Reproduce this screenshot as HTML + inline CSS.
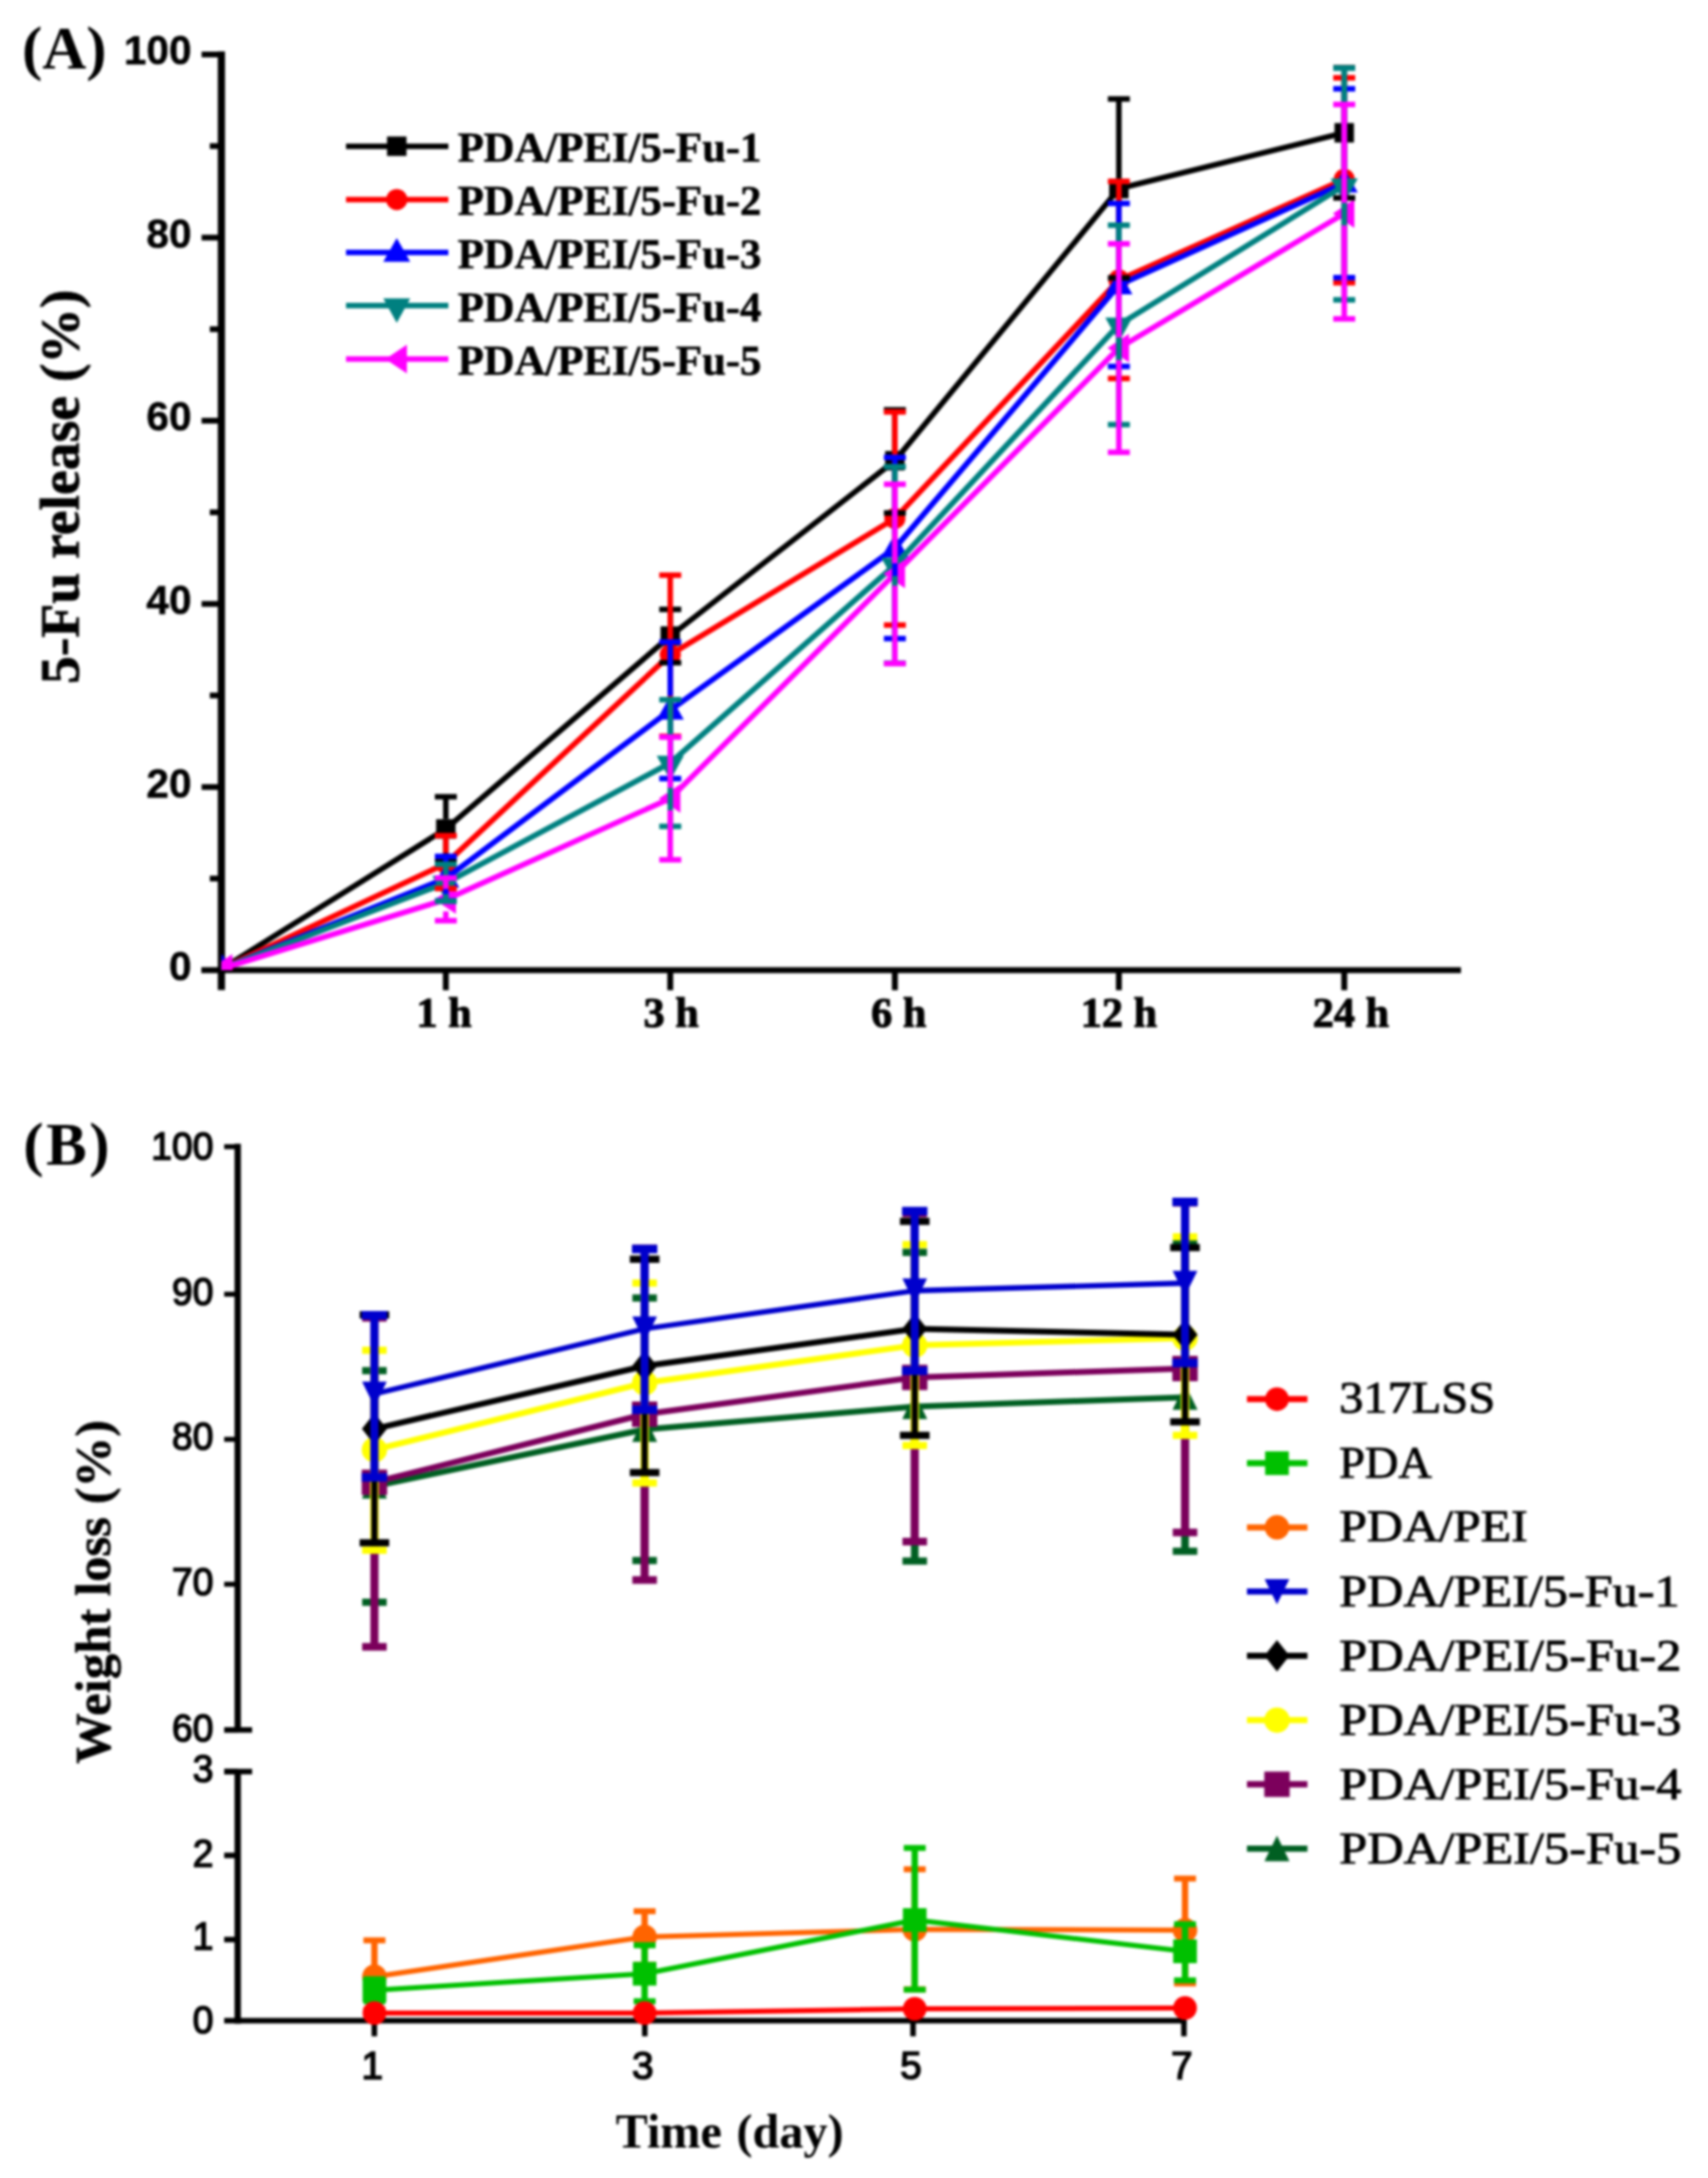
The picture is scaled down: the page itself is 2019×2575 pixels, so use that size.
<!DOCTYPE html>
<html lang="en"><head><meta charset="utf-8"><title>5-Fu release and weight loss</title>
<style>html,body{margin:0;padding:0;background:#fff;}body{width:2019px;height:2575px;overflow:hidden;}</style>
</head><body>
<svg width="2019" height="2575" viewBox="0 0 2019 2575" style="display:block;filter:blur(1.4px)">
<g id="panelA">
<line x1="261.7" y1="60.7" x2="261.7" y2="1170.5" stroke="#000" stroke-width="8.5"/>
<line x1="238" y1="1147.0" x2="1727" y2="1147.0" stroke="#000" stroke-width="7.2"/>
<text x="226.5" y="1159.0" font-family="'Liberation Sans',Arial,sans-serif" font-weight="700" font-size="48" text-anchor="end" fill="#000" stroke="#000" stroke-width="0.5">0</text>
<line x1="248" y1="1038.7" x2="261.7" y2="1038.7" stroke="#000" stroke-width="6.8"/>
<line x1="238.3" y1="930.5" x2="261.7" y2="930.5" stroke="#000" stroke-width="6.8"/>
<text x="226.5" y="942.5" font-family="'Liberation Sans',Arial,sans-serif" font-weight="700" font-size="48" text-anchor="end" fill="#000" stroke="#000" stroke-width="0.5">20</text>
<line x1="248" y1="822.2" x2="261.7" y2="822.2" stroke="#000" stroke-width="6.8"/>
<line x1="238.3" y1="714.0" x2="261.7" y2="714.0" stroke="#000" stroke-width="6.8"/>
<text x="226.5" y="726.0" font-family="'Liberation Sans',Arial,sans-serif" font-weight="700" font-size="48" text-anchor="end" fill="#000" stroke="#000" stroke-width="0.5">40</text>
<line x1="248" y1="605.7" x2="261.7" y2="605.7" stroke="#000" stroke-width="6.8"/>
<line x1="238.3" y1="497.4" x2="261.7" y2="497.4" stroke="#000" stroke-width="6.8"/>
<text x="226.5" y="509.4" font-family="'Liberation Sans',Arial,sans-serif" font-weight="700" font-size="48" text-anchor="end" fill="#000" stroke="#000" stroke-width="0.5">60</text>
<line x1="248" y1="389.2" x2="261.7" y2="389.2" stroke="#000" stroke-width="6.8"/>
<line x1="238.3" y1="280.9" x2="261.7" y2="280.9" stroke="#000" stroke-width="6.8"/>
<text x="226.5" y="292.9" font-family="'Liberation Sans',Arial,sans-serif" font-weight="700" font-size="48" text-anchor="end" fill="#000" stroke="#000" stroke-width="0.5">80</text>
<line x1="248" y1="172.7" x2="261.7" y2="172.7" stroke="#000" stroke-width="6.8"/>
<line x1="238.3" y1="64.4" x2="261.7" y2="64.4" stroke="#000" stroke-width="6.8"/>
<text x="226.5" y="76.4" font-family="'Liberation Sans',Arial,sans-serif" font-weight="700" font-size="48" text-anchor="end" fill="#000" stroke="#000" stroke-width="0.5">100</text>
<line x1="527.0" y1="1147.0" x2="527.0" y2="1170.7" stroke="#000" stroke-width="7"/>
<text x="525.0" y="1214" font-family="'Liberation Serif','Times New Roman',serif" font-weight="700" font-size="50" text-anchor="middle" fill="#000" stroke="#000" stroke-width="1.2">1 h</text>
<line x1="792.3" y1="1147.0" x2="792.3" y2="1170.7" stroke="#000" stroke-width="7"/>
<text x="793.3" y="1214" font-family="'Liberation Serif','Times New Roman',serif" font-weight="700" font-size="50" text-anchor="middle" fill="#000" stroke="#000" stroke-width="1.2">3 h</text>
<line x1="1057.8" y1="1147.0" x2="1057.8" y2="1170.7" stroke="#000" stroke-width="7"/>
<text x="1062.3" y="1214" font-family="'Liberation Serif','Times New Roman',serif" font-weight="700" font-size="50" text-anchor="middle" fill="#000" stroke="#000" stroke-width="1.2">6 h</text>
<line x1="1322.6" y1="1147.0" x2="1322.6" y2="1170.7" stroke="#000" stroke-width="7"/>
<text x="1322.6" y="1214" font-family="'Liberation Serif','Times New Roman',serif" font-weight="700" font-size="50" text-anchor="middle" fill="#000" stroke="#000" stroke-width="1.2">12 h</text>
<line x1="1589.0" y1="1147.0" x2="1589.0" y2="1170.7" stroke="#000" stroke-width="7"/>
<text x="1597.0" y="1214" font-family="'Liberation Serif','Times New Roman',serif" font-weight="700" font-size="50" text-anchor="middle" fill="#000" stroke="#000" stroke-width="1.2">24 h</text>
<text x="26" y="80.5" font-family="'Liberation Serif','Times New Roman',serif" font-weight="700" font-size="72" fill="#000">(A)</text>
<text transform="translate(92.5,575.5) rotate(-90)" font-family="'Liberation Serif','Times New Roman',serif" font-weight="700" font-size="65.8" text-anchor="middle" fill="#000" stroke="#000" stroke-width="0.8">5-Fu release (%)</text>
<clipPath id="clipA"><rect x="261.7" y="0" width="1800" height="1147"/></clipPath>
<g clip-path="url(#clipA)">
<polyline points="262.7,1145.0 527.0,980.0 792.3,752.0 1057.8,544.7 1322.6,223.0 1589.0,157.0" fill="none" stroke="#000000" stroke-width="6.6" stroke-linejoin="round"/>
<rect x="251.2" y="1133.5" width="23.0" height="23.0" fill="#000000"/>
<rect x="515.5" y="968.5" width="23.0" height="23.0" fill="#000000"/>
<rect x="780.8" y="740.5" width="23.0" height="23.0" fill="#000000"/>
<rect x="1046.3" y="533.2" width="23.0" height="23.0" fill="#000000"/>
<rect x="1311.1" y="211.5" width="23.0" height="23.0" fill="#000000"/>
<rect x="1577.5" y="145.5" width="23.0" height="23.0" fill="#000000"/>
<polyline points="262.7,1145.0 527.0,1021.0 792.3,774.0 1057.8,613.0 1322.6,331.0 1589.0,212.0" fill="none" stroke="#ff0000" stroke-width="6.6" stroke-linejoin="round"/>
<circle cx="262.7" cy="1145.0" r="12.5" fill="#ff0000"/>
<circle cx="527.0" cy="1021.0" r="12.5" fill="#ff0000"/>
<circle cx="792.3" cy="774.0" r="12.5" fill="#ff0000"/>
<circle cx="1057.8" cy="613.0" r="12.5" fill="#ff0000"/>
<circle cx="1322.6" cy="331.0" r="12.5" fill="#ff0000"/>
<circle cx="1589.0" cy="212.0" r="12.5" fill="#ff0000"/>
<polyline points="262.7,1145.0 527.0,1038.5 792.3,839.7 1057.8,648.0 1322.6,337.0 1589.0,216.5" fill="none" stroke="#0000ff" stroke-width="6.6" stroke-linejoin="round"/>
<polygon points="262.7,1128.0 278.7,1156.0 246.7,1156.0" fill="#0000ff"/>
<polygon points="527.0,1021.5 543.0,1049.5 511.0,1049.5" fill="#0000ff"/>
<polygon points="792.3,822.7 808.3,850.7 776.3,850.7" fill="#0000ff"/>
<polygon points="1057.8,631.0 1073.8,659.0 1041.8,659.0" fill="#0000ff"/>
<polygon points="1322.6,320.0 1338.6,348.0 1306.6,348.0" fill="#0000ff"/>
<polygon points="1589.0,199.5 1605.0,227.5 1573.0,227.5" fill="#0000ff"/>
<polyline points="262.7,1145.0 527.0,1044.0 792.3,902.0 1057.8,668.0 1322.6,384.0 1589.0,219.5" fill="none" stroke="#008080" stroke-width="6.6" stroke-linejoin="round"/>
<polygon points="262.7,1165.5 278.7,1136.5 246.7,1136.5" fill="#008080"/>
<polygon points="527.0,1064.5 543.0,1035.5 511.0,1035.5" fill="#008080"/>
<polygon points="792.3,922.5 808.3,893.5 776.3,893.5" fill="#008080"/>
<polygon points="1057.8,688.5 1073.8,659.5 1041.8,659.5" fill="#008080"/>
<polygon points="1322.6,404.5 1338.6,375.5 1306.6,375.5" fill="#008080"/>
<polygon points="1589.0,240.0 1605.0,211.0 1573.0,211.0" fill="#008080"/>
<polyline points="262.7,1145.0 527.0,1063.5 792.3,944.0 1057.8,678.5 1322.6,411.5 1589.0,252.5" fill="none" stroke="#ff00ff" stroke-width="6.6" stroke-linejoin="round"/>
<polygon points="249.2,1145.0 274.7,1128.0 274.7,1162.0" fill="#ff00ff"/>
<polygon points="513.5,1063.5 539.0,1046.5 539.0,1080.5" fill="#ff00ff"/>
<polygon points="778.8,944.0 804.3,927.0 804.3,961.0" fill="#ff00ff"/>
<polygon points="1044.3,678.5 1069.8,661.5 1069.8,695.5" fill="#ff00ff"/>
<polygon points="1309.1,411.5 1334.6,394.5 1334.6,428.5" fill="#ff00ff"/>
<polygon points="1575.5,252.5 1601.0,235.5 1601.0,269.5" fill="#ff00ff"/>
<line x1="527.0" y1="942.0" x2="527.0" y2="968.5" stroke="#000000" stroke-width="6.5"/><line x1="527.0" y1="991.5" x2="527.0" y2="1016.0" stroke="#000000" stroke-width="6.5"/><line x1="514.0" y1="942.0" x2="540.0" y2="942.0" stroke="#000000" stroke-width="6.5"/><line x1="514.0" y1="1016.0" x2="540.0" y2="1016.0" stroke="#000000" stroke-width="6.5"/>
<line x1="792.3" y1="720.6" x2="792.3" y2="740.5" stroke="#000000" stroke-width="6.5"/><line x1="792.3" y1="763.5" x2="792.3" y2="783.5" stroke="#000000" stroke-width="6.5"/><line x1="779.3" y1="720.6" x2="805.3" y2="720.6" stroke="#000000" stroke-width="6.5"/><line x1="779.3" y1="783.5" x2="805.3" y2="783.5" stroke="#000000" stroke-width="6.5"/>
<line x1="1057.8" y1="484.5" x2="1057.8" y2="533.2" stroke="#000000" stroke-width="6.5"/><line x1="1057.8" y1="556.2" x2="1057.8" y2="606.6" stroke="#000000" stroke-width="6.5"/><line x1="1044.8" y1="484.5" x2="1070.8" y2="484.5" stroke="#000000" stroke-width="6.5"/><line x1="1044.8" y1="606.6" x2="1070.8" y2="606.6" stroke="#000000" stroke-width="6.5"/>
<line x1="1322.6" y1="117.0" x2="1322.6" y2="211.5" stroke="#000000" stroke-width="6.5"/><line x1="1322.6" y1="234.5" x2="1322.6" y2="328.6" stroke="#000000" stroke-width="6.5"/><line x1="1309.6" y1="117.0" x2="1335.6" y2="117.0" stroke="#000000" stroke-width="6.5"/><line x1="1309.6" y1="328.6" x2="1335.6" y2="328.6" stroke="#000000" stroke-width="6.5"/>
<line x1="1589.0" y1="80.0" x2="1589.0" y2="145.5" stroke="#000000" stroke-width="6.5"/><line x1="1589.0" y1="168.5" x2="1589.0" y2="234.0" stroke="#000000" stroke-width="6.5"/><line x1="1576.0" y1="80.0" x2="1602.0" y2="80.0" stroke="#000000" stroke-width="6.5"/><line x1="1576.0" y1="234.0" x2="1602.0" y2="234.0" stroke="#000000" stroke-width="6.5"/>
<line x1="527.0" y1="988.0" x2="527.0" y2="1008.5" stroke="#ff0000" stroke-width="6.5"/><line x1="527.0" y1="1033.5" x2="527.0" y2="1050.5" stroke="#ff0000" stroke-width="6.5"/><line x1="514.0" y1="988.0" x2="540.0" y2="988.0" stroke="#ff0000" stroke-width="6.5"/><line x1="514.0" y1="1050.5" x2="540.0" y2="1050.5" stroke="#ff0000" stroke-width="6.5"/>
<line x1="792.3" y1="680.0" x2="792.3" y2="761.5" stroke="#ff0000" stroke-width="6.5"/><line x1="792.3" y1="786.5" x2="792.3" y2="870.6" stroke="#ff0000" stroke-width="6.5"/><line x1="779.3" y1="680.0" x2="805.3" y2="680.0" stroke="#ff0000" stroke-width="6.5"/><line x1="779.3" y1="870.6" x2="805.3" y2="870.6" stroke="#ff0000" stroke-width="6.5"/>
<line x1="1057.8" y1="487.0" x2="1057.8" y2="600.5" stroke="#ff0000" stroke-width="6.5"/><line x1="1057.8" y1="625.5" x2="1057.8" y2="739.0" stroke="#ff0000" stroke-width="6.5"/><line x1="1044.8" y1="487.0" x2="1070.8" y2="487.0" stroke="#ff0000" stroke-width="6.5"/><line x1="1044.8" y1="739.0" x2="1070.8" y2="739.0" stroke="#ff0000" stroke-width="6.5"/>
<line x1="1322.6" y1="214.4" x2="1322.6" y2="318.5" stroke="#ff0000" stroke-width="6.5"/><line x1="1322.6" y1="343.5" x2="1322.6" y2="447.6" stroke="#ff0000" stroke-width="6.5"/><line x1="1309.6" y1="214.4" x2="1335.6" y2="214.4" stroke="#ff0000" stroke-width="6.5"/><line x1="1309.6" y1="447.6" x2="1335.6" y2="447.6" stroke="#ff0000" stroke-width="6.5"/>
<line x1="1589.0" y1="91.9" x2="1589.0" y2="199.5" stroke="#ff0000" stroke-width="6.5"/><line x1="1589.0" y1="224.5" x2="1589.0" y2="334.3" stroke="#ff0000" stroke-width="6.5"/><line x1="1576.0" y1="91.9" x2="1602.0" y2="91.9" stroke="#ff0000" stroke-width="6.5"/><line x1="1576.0" y1="334.3" x2="1602.0" y2="334.3" stroke="#ff0000" stroke-width="6.5"/>
<line x1="527.0" y1="1012.4" x2="527.0" y2="1021.5" stroke="#0000ff" stroke-width="6.5"/><line x1="527.0" y1="1049.5" x2="527.0" y2="1065.0" stroke="#0000ff" stroke-width="6.5"/><line x1="514.0" y1="1012.4" x2="540.0" y2="1012.4" stroke="#0000ff" stroke-width="6.5"/><line x1="514.0" y1="1065.0" x2="540.0" y2="1065.0" stroke="#0000ff" stroke-width="6.5"/>
<line x1="792.3" y1="759.0" x2="792.3" y2="822.7" stroke="#0000ff" stroke-width="6.5"/><line x1="792.3" y1="850.7" x2="792.3" y2="920.5" stroke="#0000ff" stroke-width="6.5"/><line x1="779.3" y1="759.0" x2="805.3" y2="759.0" stroke="#0000ff" stroke-width="6.5"/><line x1="779.3" y1="920.5" x2="805.3" y2="920.5" stroke="#0000ff" stroke-width="6.5"/>
<line x1="1057.8" y1="540.8" x2="1057.8" y2="631.0" stroke="#0000ff" stroke-width="6.5"/><line x1="1057.8" y1="659.0" x2="1057.8" y2="755.0" stroke="#0000ff" stroke-width="6.5"/><line x1="1044.8" y1="540.8" x2="1070.8" y2="540.8" stroke="#0000ff" stroke-width="6.5"/><line x1="1044.8" y1="755.0" x2="1070.8" y2="755.0" stroke="#0000ff" stroke-width="6.5"/>
<line x1="1322.6" y1="240.4" x2="1322.6" y2="320.0" stroke="#0000ff" stroke-width="6.5"/><line x1="1322.6" y1="348.0" x2="1322.6" y2="433.3" stroke="#0000ff" stroke-width="6.5"/><line x1="1309.6" y1="240.4" x2="1335.6" y2="240.4" stroke="#0000ff" stroke-width="6.5"/><line x1="1309.6" y1="433.3" x2="1335.6" y2="433.3" stroke="#0000ff" stroke-width="6.5"/>
<line x1="1589.0" y1="105.0" x2="1589.0" y2="199.5" stroke="#0000ff" stroke-width="6.5"/><line x1="1589.0" y1="227.5" x2="1589.0" y2="328.2" stroke="#0000ff" stroke-width="6.5"/><line x1="1576.0" y1="105.0" x2="1602.0" y2="105.0" stroke="#0000ff" stroke-width="6.5"/><line x1="1576.0" y1="328.2" x2="1602.0" y2="328.2" stroke="#0000ff" stroke-width="6.5"/>
<line x1="527.0" y1="1021.8" x2="527.0" y2="1035.5" stroke="#008080" stroke-width="6.5"/><line x1="527.0" y1="1057.0" x2="527.0" y2="1065.5" stroke="#008080" stroke-width="6.5"/><line x1="514.0" y1="1021.8" x2="540.0" y2="1021.8" stroke="#008080" stroke-width="6.5"/><line x1="514.0" y1="1065.5" x2="540.0" y2="1065.5" stroke="#008080" stroke-width="6.5"/>
<line x1="792.3" y1="827.3" x2="792.3" y2="893.5" stroke="#008080" stroke-width="6.5"/><line x1="792.3" y1="915.0" x2="792.3" y2="977.0" stroke="#008080" stroke-width="6.5"/><line x1="779.3" y1="827.3" x2="805.3" y2="827.3" stroke="#008080" stroke-width="6.5"/><line x1="779.3" y1="977.0" x2="805.3" y2="977.0" stroke="#008080" stroke-width="6.5"/>
<line x1="1057.8" y1="551.7" x2="1057.8" y2="659.5" stroke="#008080" stroke-width="6.5"/><line x1="1057.8" y1="681.0" x2="1057.8" y2="784.0" stroke="#008080" stroke-width="6.5"/><line x1="1044.8" y1="551.7" x2="1070.8" y2="551.7" stroke="#008080" stroke-width="6.5"/><line x1="1044.8" y1="784.0" x2="1070.8" y2="784.0" stroke="#008080" stroke-width="6.5"/>
<line x1="1322.6" y1="266.2" x2="1322.6" y2="375.5" stroke="#008080" stroke-width="6.5"/><line x1="1322.6" y1="397.0" x2="1322.6" y2="502.0" stroke="#008080" stroke-width="6.5"/><line x1="1309.6" y1="266.2" x2="1335.6" y2="266.2" stroke="#008080" stroke-width="6.5"/><line x1="1309.6" y1="502.0" x2="1335.6" y2="502.0" stroke="#008080" stroke-width="6.5"/>
<line x1="1589.0" y1="80.5" x2="1589.0" y2="211.0" stroke="#008080" stroke-width="6.5"/><line x1="1589.0" y1="232.5" x2="1589.0" y2="354.4" stroke="#008080" stroke-width="6.5"/><line x1="1576.0" y1="80.5" x2="1602.0" y2="80.5" stroke="#008080" stroke-width="6.5"/><line x1="1576.0" y1="354.4" x2="1602.0" y2="354.4" stroke="#008080" stroke-width="6.5"/>
<line x1="527.0" y1="1038.0" x2="527.0" y2="1051.0" stroke="#ff00ff" stroke-width="6.5"/><line x1="527.0" y1="1077.5" x2="527.0" y2="1088.5" stroke="#ff00ff" stroke-width="6.5"/><line x1="514.0" y1="1038.0" x2="540.0" y2="1038.0" stroke="#ff00ff" stroke-width="6.5"/><line x1="514.0" y1="1088.5" x2="540.0" y2="1088.5" stroke="#ff00ff" stroke-width="6.5"/>
<line x1="792.3" y1="871.5" x2="792.3" y2="931.5" stroke="#ff00ff" stroke-width="6.5"/><line x1="792.3" y1="958.0" x2="792.3" y2="1016.5" stroke="#ff00ff" stroke-width="6.5"/><line x1="779.3" y1="871.5" x2="805.3" y2="871.5" stroke="#ff00ff" stroke-width="6.5"/><line x1="779.3" y1="1016.5" x2="805.3" y2="1016.5" stroke="#ff00ff" stroke-width="6.5"/>
<line x1="1057.8" y1="572.6" x2="1057.8" y2="666.0" stroke="#ff00ff" stroke-width="6.5"/><line x1="1057.8" y1="692.5" x2="1057.8" y2="784.5" stroke="#ff00ff" stroke-width="6.5"/><line x1="1044.8" y1="572.6" x2="1070.8" y2="572.6" stroke="#ff00ff" stroke-width="6.5"/><line x1="1044.8" y1="784.5" x2="1070.8" y2="784.5" stroke="#ff00ff" stroke-width="6.5"/>
<line x1="1322.6" y1="288.3" x2="1322.6" y2="399.0" stroke="#ff00ff" stroke-width="6.5"/><line x1="1322.6" y1="425.5" x2="1322.6" y2="534.7" stroke="#ff00ff" stroke-width="6.5"/><line x1="1309.6" y1="288.3" x2="1335.6" y2="288.3" stroke="#ff00ff" stroke-width="6.5"/><line x1="1309.6" y1="534.7" x2="1335.6" y2="534.7" stroke="#ff00ff" stroke-width="6.5"/>
<line x1="1589.0" y1="123.6" x2="1589.0" y2="240.0" stroke="#ff00ff" stroke-width="6.5"/><line x1="1589.0" y1="266.5" x2="1589.0" y2="377.0" stroke="#ff00ff" stroke-width="6.5"/><line x1="1576.0" y1="123.6" x2="1602.0" y2="123.6" stroke="#ff00ff" stroke-width="6.5"/><line x1="1576.0" y1="377.0" x2="1602.0" y2="377.0" stroke="#ff00ff" stroke-width="6.5"/>
</g>
<line x1="409" y1="172.9" x2="530" y2="172.9" stroke="#000000" stroke-width="6.5"/>
<rect x="457.5" y="161.4" width="23.0" height="23.0" fill="#000000"/>
<text x="541" y="191.4" font-family="'Liberation Serif','Times New Roman',serif" font-weight="700" font-size="50.5" fill="#000" stroke="#000" stroke-width="0.7">PDA/PEI/5-Fu-1</text>
<line x1="409" y1="235.9" x2="530" y2="235.9" stroke="#ff0000" stroke-width="6.5"/>
<circle cx="469.0" cy="235.9" r="12.5" fill="#ff0000"/>
<text x="541" y="254.4" font-family="'Liberation Serif','Times New Roman',serif" font-weight="700" font-size="50.5" fill="#000" stroke="#000" stroke-width="0.7">PDA/PEI/5-Fu-2</text>
<line x1="409" y1="298.6" x2="530" y2="298.6" stroke="#0000ff" stroke-width="6.5"/>
<polygon points="469.0,281.6 485.0,309.6 453.0,309.6" fill="#0000ff"/>
<text x="541" y="317.1" font-family="'Liberation Serif','Times New Roman',serif" font-weight="700" font-size="50.5" fill="#000" stroke="#000" stroke-width="0.7">PDA/PEI/5-Fu-3</text>
<line x1="409" y1="361.3" x2="530" y2="361.3" stroke="#008080" stroke-width="6.5"/>
<polygon points="469.0,381.8 485.0,352.8 453.0,352.8" fill="#008080"/>
<text x="541" y="379.8" font-family="'Liberation Serif','Times New Roman',serif" font-weight="700" font-size="50.5" fill="#000" stroke="#000" stroke-width="0.7">PDA/PEI/5-Fu-4</text>
<line x1="409" y1="424.6" x2="530" y2="424.6" stroke="#ff00ff" stroke-width="6.5"/>
<polygon points="455.5,424.6 481.0,407.6 481.0,441.6" fill="#ff00ff"/>
<text x="541" y="443.1" font-family="'Liberation Serif','Times New Roman',serif" font-weight="700" font-size="50.5" fill="#000" stroke="#000" stroke-width="0.7">PDA/PEI/5-Fu-5</text>
</g>
<g id="panelB">
<line x1="281.0" y1="1352.3" x2="281.0" y2="2045.3" stroke="#000" stroke-width="7.5"/>
<line x1="281.0" y1="2094.4" x2="281.0" y2="2392.5" stroke="#000" stroke-width="7.5"/>
<line x1="265" y1="2389.0" x2="1402.5" y2="2389.0" stroke="#000" stroke-width="6.4"/>
<line x1="265" y1="2045.3" x2="298" y2="2045.3" stroke="#000" stroke-width="6.5"/>
<line x1="265" y1="2094.4" x2="298" y2="2094.4" stroke="#000" stroke-width="6.5"/>
<line x1="265" y1="1355.7" x2="281.0" y2="1355.7" stroke="#000" stroke-width="5.8"/>
<text transform="translate(252.3,1371.0) scale(0.96,1)" font-family="'Liberation Sans',Arial,sans-serif" font-size="46" text-anchor="end" fill="#000" stroke="#000" stroke-width="1.7">100</text>
<line x1="265" y1="1530.1" x2="281.0" y2="1530.1" stroke="#000" stroke-width="5.8"/>
<text transform="translate(252.3,1542.5) scale(0.96,1)" font-family="'Liberation Sans',Arial,sans-serif" font-size="46" text-anchor="end" fill="#000" stroke="#000" stroke-width="1.7">90</text>
<line x1="265" y1="1701.7" x2="281.0" y2="1701.7" stroke="#000" stroke-width="5.8"/>
<text transform="translate(252.3,1713.6) scale(0.96,1)" font-family="'Liberation Sans',Arial,sans-serif" font-size="46" text-anchor="end" fill="#000" stroke="#000" stroke-width="1.7">80</text>
<line x1="265" y1="1873.0" x2="281.0" y2="1873.0" stroke="#000" stroke-width="5.8"/>
<text transform="translate(252.3,1886.4) scale(0.96,1)" font-family="'Liberation Sans',Arial,sans-serif" font-size="46" text-anchor="end" fill="#000" stroke="#000" stroke-width="1.7">70</text>
<line x1="265" y1="2045.3" x2="281.0" y2="2045.3" stroke="#000" stroke-width="5.8"/>
<text transform="translate(252.3,2059.0) scale(0.96,1)" font-family="'Liberation Sans',Arial,sans-serif" font-size="46" text-anchor="end" fill="#000" stroke="#000" stroke-width="1.7">60</text>
<line x1="265" y1="2094.4" x2="281.0" y2="2094.4" stroke="#000" stroke-width="6.5"/>
<text transform="translate(252.3,2106.7) scale(0.96,1)" font-family="'Liberation Sans',Arial,sans-serif" font-size="46" text-anchor="end" fill="#000" stroke="#000" stroke-width="1.7">3</text>
<line x1="265" y1="2193.6" x2="281.0" y2="2193.6" stroke="#000" stroke-width="6.5"/>
<text transform="translate(252.3,2206.6) scale(0.96,1)" font-family="'Liberation Sans',Arial,sans-serif" font-size="46" text-anchor="end" fill="#000" stroke="#000" stroke-width="1.7">2</text>
<line x1="265" y1="2293.1" x2="281.0" y2="2293.1" stroke="#000" stroke-width="6.5"/>
<text transform="translate(252.3,2304.6) scale(0.96,1)" font-family="'Liberation Sans',Arial,sans-serif" font-size="46" text-anchor="end" fill="#000" stroke="#000" stroke-width="1.7">1</text>
<text transform="translate(252.3,2403.9) scale(0.96,1)" font-family="'Liberation Sans',Arial,sans-serif" font-size="46" text-anchor="end" fill="#000" stroke="#000" stroke-width="1.7">0</text>
<line x1="442.5" y1="2389.0" x2="442.5" y2="2407.5" stroke="#000" stroke-width="6.5"/>
<text x="440.0" y="2457.8" font-family="'Liberation Sans',Arial,sans-serif" font-size="46" text-anchor="middle" fill="#000" stroke="#000" stroke-width="1.7">1</text>
<line x1="762.2" y1="2389.0" x2="762.2" y2="2407.5" stroke="#000" stroke-width="6.5"/>
<text x="759.7" y="2457.8" font-family="'Liberation Sans',Arial,sans-serif" font-size="46" text-anchor="middle" fill="#000" stroke="#000" stroke-width="1.7">3</text>
<line x1="1079.3" y1="2389.0" x2="1079.3" y2="2407.5" stroke="#000" stroke-width="6.5"/>
<text x="1076.8" y="2457.8" font-family="'Liberation Sans',Arial,sans-serif" font-size="46" text-anchor="middle" fill="#000" stroke="#000" stroke-width="1.7">5</text>
<line x1="1399.5" y1="2389.0" x2="1399.5" y2="2407.5" stroke="#000" stroke-width="6.5"/>
<text x="1397.0" y="2457.8" font-family="'Liberation Sans',Arial,sans-serif" font-size="46" text-anchor="middle" fill="#000" stroke="#000" stroke-width="1.7">7</text>
<text x="27.5" y="1377" font-family="'Liberation Serif','Times New Roman',serif" font-weight="700" font-size="72" fill="#000" letter-spacing="3">(B)</text>
<text transform="translate(130,1882) rotate(-90)" font-family="'Liberation Serif','Times New Roman',serif" font-weight="700" font-size="60" text-anchor="middle" fill="#000" stroke="#000" stroke-width="0.6">Weight loss (%)</text>
<text x="862.5" y="2539" font-family="'Liberation Serif','Times New Roman',serif" font-weight="700" font-size="57" text-anchor="middle" fill="#000" word-spacing="3">Time (day)</text>
<polyline points="442.6,1757.0 762.0,1690.0 1081.3,1663.0 1400.8,1652.0" fill="none" stroke="#005f22" stroke-width="7" stroke-linejoin="round"/>
<polygon points="442.6,1741.6 457.4,1771.8 427.8,1771.8" fill="#005f22"/>
<polygon points="762.0,1674.6 776.8,1704.8 747.2,1704.8" fill="#005f22"/>
<polygon points="1081.3,1647.6 1096.1,1677.8 1066.5,1677.8" fill="#005f22"/>
<polygon points="1400.8,1636.6 1415.6,1666.8 1386.0,1666.8" fill="#005f22"/>
<line x1="442.6" y1="1620.5" x2="442.6" y2="1894.3" stroke="#005f22" stroke-width="9"/><line x1="428.1" y1="1620.5" x2="457.1" y2="1620.5" stroke="#005f22" stroke-width="8.5"/><line x1="428.1" y1="1894.3" x2="457.1" y2="1894.3" stroke="#005f22" stroke-width="8.5"/>
<line x1="762.0" y1="1534.6" x2="762.0" y2="1845.0" stroke="#005f22" stroke-width="9"/><line x1="747.5" y1="1534.6" x2="776.5" y2="1534.6" stroke="#005f22" stroke-width="8.5"/><line x1="747.5" y1="1845.0" x2="776.5" y2="1845.0" stroke="#005f22" stroke-width="8.5"/>
<line x1="1081.3" y1="1480.7" x2="1081.3" y2="1845.6" stroke="#005f22" stroke-width="9"/><line x1="1066.8" y1="1480.7" x2="1095.8" y2="1480.7" stroke="#005f22" stroke-width="8.5"/><line x1="1066.8" y1="1845.6" x2="1095.8" y2="1845.6" stroke="#005f22" stroke-width="8.5"/>
<line x1="1400.8" y1="1470.0" x2="1400.8" y2="1834.0" stroke="#005f22" stroke-width="9"/><line x1="1386.3" y1="1470.0" x2="1415.3" y2="1470.0" stroke="#005f22" stroke-width="8.5"/><line x1="1386.3" y1="1834.0" x2="1415.3" y2="1834.0" stroke="#005f22" stroke-width="8.5"/>
<polyline points="442.6,1752.5 762.0,1672.0 1081.3,1628.5 1400.8,1618.0" fill="none" stroke="#7c005c" stroke-width="7" stroke-linejoin="round"/>
<rect x="427.6" y="1737.5" width="30.0" height="30.0" fill="#7c005c"/>
<rect x="747.0" y="1657.0" width="30.0" height="30.0" fill="#7c005c"/>
<rect x="1066.3" y="1613.5" width="30.0" height="30.0" fill="#7c005c"/>
<rect x="1385.8" y="1603.0" width="30.0" height="30.0" fill="#7c005c"/>
<line x1="442.6" y1="1558.0" x2="442.6" y2="1947.0" stroke="#7c005c" stroke-width="9.5"/><line x1="428.1" y1="1558.0" x2="457.1" y2="1558.0" stroke="#7c005c" stroke-width="9"/><line x1="428.1" y1="1947.0" x2="457.1" y2="1947.0" stroke="#7c005c" stroke-width="9"/>
<line x1="762.0" y1="1476.0" x2="762.0" y2="1868.0" stroke="#7c005c" stroke-width="9.5"/><line x1="747.5" y1="1476.0" x2="776.5" y2="1476.0" stroke="#7c005c" stroke-width="9"/><line x1="747.5" y1="1868.0" x2="776.5" y2="1868.0" stroke="#7c005c" stroke-width="9"/>
<line x1="1081.3" y1="1434.8" x2="1081.3" y2="1822.6" stroke="#7c005c" stroke-width="9.5"/><line x1="1066.8" y1="1434.8" x2="1095.8" y2="1434.8" stroke="#7c005c" stroke-width="9"/><line x1="1066.8" y1="1822.6" x2="1095.8" y2="1822.6" stroke="#7c005c" stroke-width="9"/>
<line x1="1400.8" y1="1422.0" x2="1400.8" y2="1811.8" stroke="#7c005c" stroke-width="9.5"/><line x1="1386.3" y1="1422.0" x2="1415.3" y2="1422.0" stroke="#7c005c" stroke-width="9"/><line x1="1386.3" y1="1811.8" x2="1415.3" y2="1811.8" stroke="#7c005c" stroke-width="9"/>
<polyline points="442.6,1714.0 762.0,1635.0 1081.3,1590.5 1400.8,1582.0" fill="none" stroke="#ffff00" stroke-width="7" stroke-linejoin="round"/>
<circle cx="442.6" cy="1714.0" r="15.0" fill="#ffff00"/>
<circle cx="762.0" cy="1635.0" r="15.0" fill="#ffff00"/>
<circle cx="1081.3" cy="1590.5" r="15.0" fill="#ffff00"/>
<circle cx="1400.8" cy="1582.0" r="15.0" fill="#ffff00"/>
<line x1="442.6" y1="1596.4" x2="442.6" y2="1832.8" stroke="#ffff00" stroke-width="10"/><line x1="428.1" y1="1596.4" x2="457.1" y2="1596.4" stroke="#ffff00" stroke-width="8.5"/><line x1="428.1" y1="1832.8" x2="457.1" y2="1832.8" stroke="#ffff00" stroke-width="8.5"/>
<line x1="762.0" y1="1516.9" x2="762.0" y2="1753.3" stroke="#ffff00" stroke-width="10"/><line x1="747.5" y1="1516.9" x2="776.5" y2="1516.9" stroke="#ffff00" stroke-width="8.5"/><line x1="747.5" y1="1753.3" x2="776.5" y2="1753.3" stroke="#ffff00" stroke-width="8.5"/>
<line x1="1081.3" y1="1471.5" x2="1081.3" y2="1709.0" stroke="#ffff00" stroke-width="10"/><line x1="1066.8" y1="1471.5" x2="1095.8" y2="1471.5" stroke="#ffff00" stroke-width="8.5"/><line x1="1066.8" y1="1709.0" x2="1095.8" y2="1709.0" stroke="#ffff00" stroke-width="8.5"/>
<line x1="1400.8" y1="1462.3" x2="1400.8" y2="1697.0" stroke="#ffff00" stroke-width="10"/><line x1="1386.3" y1="1462.3" x2="1415.3" y2="1462.3" stroke="#ffff00" stroke-width="8.5"/><line x1="1386.3" y1="1697.0" x2="1415.3" y2="1697.0" stroke="#ffff00" stroke-width="8.5"/>
<polyline points="442.6,1689.3 762.0,1615.0 1081.3,1571.0 1400.8,1578.0" fill="none" stroke="#000000" stroke-width="7" stroke-linejoin="round"/>
<polygon points="442.6,1670.7 457.4,1689.3 442.6,1707.9 427.8,1689.3" fill="#000000"/>
<polygon points="762.0,1596.4 776.8,1615.0 762.0,1633.6 747.2,1615.0" fill="#000000"/>
<polygon points="1081.3,1552.4 1096.1,1571.0 1081.3,1589.6 1066.5,1571.0" fill="#000000"/>
<polygon points="1400.8,1559.4 1415.6,1578.0 1400.8,1596.6 1386.0,1578.0" fill="#000000"/>
<line x1="442.6" y1="1554.6" x2="442.6" y2="1824.0" stroke="#000000" stroke-width="7.2"/><line x1="425.1" y1="1554.6" x2="460.1" y2="1554.6" stroke="#000000" stroke-width="8.5"/><line x1="425.1" y1="1824.0" x2="460.1" y2="1824.0" stroke="#000000" stroke-width="8.5"/>
<line x1="762.0" y1="1488.7" x2="762.0" y2="1741.0" stroke="#000000" stroke-width="7.2"/><line x1="744.5" y1="1488.7" x2="779.5" y2="1488.7" stroke="#000000" stroke-width="8.5"/><line x1="744.5" y1="1741.0" x2="779.5" y2="1741.0" stroke="#000000" stroke-width="8.5"/>
<line x1="1081.3" y1="1444.0" x2="1081.3" y2="1697.0" stroke="#000000" stroke-width="7.2"/><line x1="1063.8" y1="1444.0" x2="1098.8" y2="1444.0" stroke="#000000" stroke-width="8.5"/><line x1="1063.8" y1="1697.0" x2="1098.8" y2="1697.0" stroke="#000000" stroke-width="8.5"/>
<line x1="1400.8" y1="1475.0" x2="1400.8" y2="1681.0" stroke="#000000" stroke-width="7.2"/><line x1="1383.3" y1="1475.0" x2="1418.3" y2="1475.0" stroke="#000000" stroke-width="8.5"/><line x1="1383.3" y1="1681.0" x2="1418.3" y2="1681.0" stroke="#000000" stroke-width="8.5"/>
<polyline points="442.6,1648.0 762.0,1571.0 1081.3,1526.0 1400.8,1517.0" fill="none" stroke="#0000cc" stroke-width="6.3" stroke-linejoin="round"/>
<polygon points="442.6,1663.1 457.2,1633.4 428.0,1633.4" fill="#0000cc"/>
<polygon points="762.0,1586.1 776.6,1556.4 747.4,1556.4" fill="#0000cc"/>
<polygon points="1081.3,1541.1 1095.9,1511.4 1066.7,1511.4" fill="#0000cc"/>
<polygon points="1400.8,1532.1 1415.4,1502.4 1386.2,1502.4" fill="#0000cc"/>
<line x1="442.6" y1="1555.0" x2="442.6" y2="1746.7" stroke="#0000cc" stroke-width="9.5"/><line x1="427.6" y1="1555.0" x2="457.6" y2="1555.0" stroke="#0000cc" stroke-width="10"/><line x1="427.6" y1="1746.7" x2="457.6" y2="1746.7" stroke="#0000cc" stroke-width="10"/>
<line x1="762.0" y1="1476.7" x2="762.0" y2="1666.8" stroke="#0000cc" stroke-width="9.5"/><line x1="747.0" y1="1476.7" x2="777.0" y2="1476.7" stroke="#0000cc" stroke-width="10"/><line x1="747.0" y1="1666.8" x2="777.0" y2="1666.8" stroke="#0000cc" stroke-width="10"/>
<line x1="1081.3" y1="1431.8" x2="1081.3" y2="1620.7" stroke="#0000cc" stroke-width="9.5"/><line x1="1066.3" y1="1431.8" x2="1096.3" y2="1431.8" stroke="#0000cc" stroke-width="10"/><line x1="1066.3" y1="1620.7" x2="1096.3" y2="1620.7" stroke="#0000cc" stroke-width="10"/>
<line x1="1400.8" y1="1421.0" x2="1400.8" y2="1611.5" stroke="#0000cc" stroke-width="9.5"/><line x1="1385.8" y1="1421.0" x2="1415.8" y2="1421.0" stroke="#0000cc" stroke-width="10"/><line x1="1385.8" y1="1611.5" x2="1415.8" y2="1611.5" stroke="#0000cc" stroke-width="10"/>
<polyline points="442.6,2337.0 762.0,2290.0 1081.3,2281.0 1400.8,2282.0" fill="none" stroke="#ff6400" stroke-width="6" stroke-linejoin="round"/>
<circle cx="442.6" cy="2337.0" r="14.5" fill="#ff6400"/>
<circle cx="762.0" cy="2290.0" r="14.5" fill="#ff6400"/>
<circle cx="1081.3" cy="2281.0" r="14.5" fill="#ff6400"/>
<circle cx="1400.8" cy="2282.0" r="14.5" fill="#ff6400"/>
<line x1="442.6" y1="2294.0" x2="442.6" y2="2376.0" stroke="#ff6400" stroke-width="7.5"/><line x1="429.6" y1="2294.0" x2="455.6" y2="2294.0" stroke="#ff6400" stroke-width="7"/><line x1="429.6" y1="2376.0" x2="455.6" y2="2376.0" stroke="#ff6400" stroke-width="7"/>
<line x1="762.0" y1="2259.6" x2="762.0" y2="2323.0" stroke="#ff6400" stroke-width="7.5"/><line x1="749.0" y1="2259.6" x2="775.0" y2="2259.6" stroke="#ff6400" stroke-width="7"/><line x1="749.0" y1="2323.0" x2="775.0" y2="2323.0" stroke="#ff6400" stroke-width="7"/>
<line x1="1081.3" y1="2210.0" x2="1081.3" y2="2352.0" stroke="#ff6400" stroke-width="7.5"/><line x1="1068.3" y1="2210.0" x2="1094.3" y2="2210.0" stroke="#ff6400" stroke-width="7"/><line x1="1068.3" y1="2352.0" x2="1094.3" y2="2352.0" stroke="#ff6400" stroke-width="7"/>
<line x1="1400.8" y1="2221.0" x2="1400.8" y2="2345.0" stroke="#ff6400" stroke-width="7.5"/><line x1="1387.8" y1="2221.0" x2="1413.8" y2="2221.0" stroke="#ff6400" stroke-width="7"/><line x1="1387.8" y1="2345.0" x2="1413.8" y2="2345.0" stroke="#ff6400" stroke-width="7"/>
<polyline points="442.6,2353.0 762.0,2333.5 1081.3,2270.0 1400.8,2307.0" fill="none" stroke="#00c000" stroke-width="6" stroke-linejoin="round"/>
<rect x="428.6" y="2339.0" width="28.0" height="28.0" fill="#00c000"/>
<rect x="748.0" y="2319.5" width="28.0" height="28.0" fill="#00c000"/>
<rect x="1067.3" y="2256.0" width="28.0" height="28.0" fill="#00c000"/>
<rect x="1386.8" y="2293.0" width="28.0" height="28.0" fill="#00c000"/>
<line x1="442.6" y1="2340.0" x2="442.6" y2="2366.0" stroke="#00c000" stroke-width="7.5"/><line x1="429.6" y1="2340.0" x2="455.6" y2="2340.0" stroke="#00c000" stroke-width="7"/><line x1="429.6" y1="2366.0" x2="455.6" y2="2366.0" stroke="#00c000" stroke-width="7"/>
<line x1="762.0" y1="2299.8" x2="762.0" y2="2366.0" stroke="#00c000" stroke-width="7.5"/><line x1="749.0" y1="2299.8" x2="775.0" y2="2299.8" stroke="#00c000" stroke-width="7"/><line x1="749.0" y1="2366.0" x2="775.0" y2="2366.0" stroke="#00c000" stroke-width="7"/>
<line x1="1081.3" y1="2184.8" x2="1081.3" y2="2352.3" stroke="#00c000" stroke-width="7.5"/><line x1="1068.3" y1="2184.8" x2="1094.3" y2="2184.8" stroke="#00c000" stroke-width="7"/><line x1="1068.3" y1="2352.3" x2="1094.3" y2="2352.3" stroke="#00c000" stroke-width="7"/>
<line x1="1400.8" y1="2275.0" x2="1400.8" y2="2341.3" stroke="#00c000" stroke-width="7.5"/><line x1="1387.8" y1="2275.0" x2="1413.8" y2="2275.0" stroke="#00c000" stroke-width="7"/><line x1="1387.8" y1="2341.3" x2="1413.8" y2="2341.3" stroke="#00c000" stroke-width="7"/>
<polyline points="442.6,2380.0 762.0,2380.0 1081.3,2375.0 1400.8,2374.0" fill="none" stroke="#ff0000" stroke-width="6" stroke-linejoin="round"/>
<circle cx="442.6" cy="2380.0" r="14.0" fill="#ff0000"/>
<circle cx="762.0" cy="2380.0" r="14.0" fill="#ff0000"/>
<circle cx="1081.3" cy="2375.0" r="14.0" fill="#ff0000"/>
<circle cx="1400.8" cy="2374.0" r="14.0" fill="#ff0000"/>
<line x1="1474" y1="1654.2" x2="1545.5" y2="1654.2" stroke="#ff0000" stroke-width="7.3"/>
<circle cx="1509.5" cy="1654.2" r="14.0" fill="#ff0000"/>
<text x="1583" y="1669.7" font-family="'Liberation Serif','Times New Roman',serif" font-size="53" fill="#000" textLength="184.5" lengthAdjust="spacingAndGlyphs" stroke="#000" stroke-width="1">317LSS</text>
<line x1="1474" y1="1729.9" x2="1545.5" y2="1729.9" stroke="#00c000" stroke-width="7.3"/>
<rect x="1495.5" y="1715.9" width="28.0" height="28.0" fill="#00c000"/>
<text x="1583" y="1746.9" font-family="'Liberation Serif','Times New Roman',serif" font-size="53" fill="#000" textLength="109.5" lengthAdjust="spacingAndGlyphs" stroke="#000" stroke-width="1">PDA</text>
<line x1="1474" y1="1805.8" x2="1545.5" y2="1805.8" stroke="#ff6400" stroke-width="7.3"/>
<circle cx="1509.5" cy="1805.8" r="14.5" fill="#ff6400"/>
<text x="1583" y="1822.3" font-family="'Liberation Serif','Times New Roman',serif" font-size="53" fill="#000" textLength="223" lengthAdjust="spacingAndGlyphs" stroke="#000" stroke-width="1">PDA/PEI</text>
<line x1="1474" y1="1881.6" x2="1545.5" y2="1881.6" stroke="#0000cc" stroke-width="7.3"/>
<polygon points="1509.5,1896.7 1524.1,1867.0 1494.9,1867.0" fill="#0000cc"/>
<text x="1583" y="1899.1" font-family="'Liberation Serif','Times New Roman',serif" font-size="53" fill="#000" textLength="402.5" lengthAdjust="spacingAndGlyphs" stroke="#000" stroke-width="1">PDA/PEI/5-Fu-1</text>
<line x1="1474" y1="1957.6" x2="1545.5" y2="1957.6" stroke="#000000" stroke-width="7.3"/>
<polygon points="1509.5,1939.0 1524.3,1957.6 1509.5,1976.2 1494.7,1957.6" fill="#000000"/>
<text x="1583" y="1975.1" font-family="'Liberation Serif','Times New Roman',serif" font-size="53" fill="#000" textLength="404.5" lengthAdjust="spacingAndGlyphs" stroke="#000" stroke-width="1">PDA/PEI/5-Fu-2</text>
<line x1="1474" y1="2033.7" x2="1545.5" y2="2033.7" stroke="#ffff00" stroke-width="7.3"/>
<circle cx="1509.5" cy="2033.7" r="15.0" fill="#ffff00"/>
<text x="1583" y="2051.2" font-family="'Liberation Serif','Times New Roman',serif" font-size="53" fill="#000" textLength="404.5" lengthAdjust="spacingAndGlyphs" stroke="#000" stroke-width="1">PDA/PEI/5-Fu-3</text>
<line x1="1474" y1="2109.5" x2="1545.5" y2="2109.5" stroke="#7c005c" stroke-width="7.3"/>
<rect x="1494.5" y="2094.5" width="30.0" height="30.0" fill="#7c005c"/>
<text x="1583" y="2127.0" font-family="'Liberation Serif','Times New Roman',serif" font-size="53" fill="#000" textLength="404.5" lengthAdjust="spacingAndGlyphs" stroke="#000" stroke-width="1">PDA/PEI/5-Fu-4</text>
<line x1="1474" y1="2185.6" x2="1545.5" y2="2185.6" stroke="#005f22" stroke-width="7.3"/>
<polygon points="1509.5,2170.2 1524.3,2200.4 1494.7,2200.4" fill="#005f22"/>
<text x="1583" y="2203.1" font-family="'Liberation Serif','Times New Roman',serif" font-size="53" fill="#000" textLength="404.5" lengthAdjust="spacingAndGlyphs" stroke="#000" stroke-width="1">PDA/PEI/5-Fu-5</text>
</g>
</svg>
</body></html>
